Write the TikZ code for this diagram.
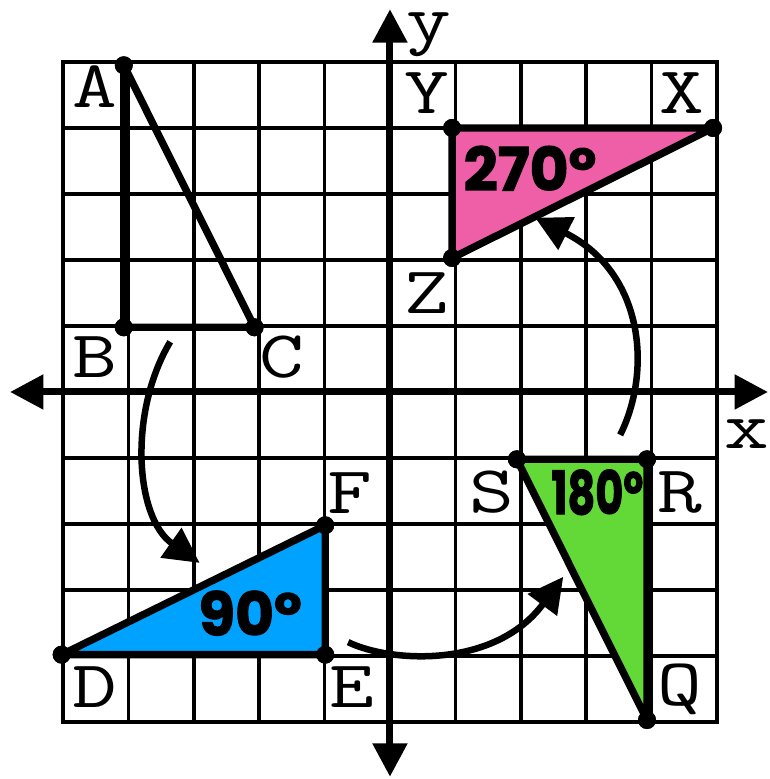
\documentclass[tikz,border=0pt]{standalone}
\usepackage{fontspec}
\newfontfamily\degfont[BoldFeatures={FakeBold=2}]{Poppins}
\usetikzlibrary{arrows.meta}
\definecolor{pinkfill}{RGB}{238,95,167}
\definecolor{bluefill}{RGB}{0,162,255}
\definecolor{greenfill}{RGB}{98,217,54}
\begin{document}
\begin{tikzpicture}[x=1.308cm,y=1.32cm,
  gridline/.style={line width=2pt},
  axisline/.style={line width=4pt,{Triangle[length=19pt,width=19pt]}-{Triangle[length=19pt,width=19pt]}},
  tri/.style={line width=4.2pt,line join=round},
  dot/.style={circle,fill=black,inner sep=0pt,minimum size=0.36cm},
  lbl/.style={font=\ttfamily\fontsize{38}{38}\selectfont,inner sep=0pt,text height=23pt,text depth=0pt,xscale=1.3},
  deg/.style={font=\degfont\bfseries\fontsize{34}{34}\selectfont,inner sep=0pt},
  turn/.style={line width=3.7pt,-{Triangle[length=20pt,width=20pt]}}]
\useasboundingbox (-5.963,-5.864) rectangle (5.810,5.939);
\fill[white] (-5.963,-5.864) rectangle (5.810,5.939);
% grid
\foreach \i in {-4,...,4} {
  \draw[gridline] (\i,-5) -- (\i,5);
  \draw[gridline] (-5,\i) -- (5,\i);
}
\draw[gridline] (-5,-5) rectangle (5,5);
% axes
\coordinate (xl) at (-5.81,0);
\coordinate (xr) at (5.78,0);
\coordinate (yt) at (0,5.80);
\coordinate (yb) at (0,-5.83);
\draw[axisline] (xl) -- (xr);
\draw[axisline] (yb) -- (yt);
\node[lbl,text height=16pt] (xlab) at (5.46,-0.65) {x};
\node[lbl,text height=16pt,text depth=8pt] (ylab) at (0.60,5.41) {y};
% vertices
\node[dot] (A) at (-4.07,4.95) {};
\node[dot] (B) at (-4.07,0.98) {};
\node[dot] (C) at (-2.07,0.98) {};
\node[dot] (D) at (-5.02,-3.98) {};
\node[dot] (E) at (-0.99,-3.98) {};
\node[dot] (F) at (-0.99,-2.02) {};
\node[dot] (S) at (1.94,-1.02) {};
\node[dot] (R) at (3.93,-1.02) {};
\node[dot] (Q) at (3.93,-4.97) {};
\node[dot] (Y) at (0.95,4.0) {};
\node[dot] (X) at (4.94,4.0) {};
\node[dot] (Z) at (0.95,2.03) {};
% triangles
\draw[tri] (A.center) -- (B.center) -- (C.center) -- cycle;
\draw[tri,fill=bluefill] (D.center) -- (E.center) -- (F.center) -- cycle;
\draw[tri,fill=greenfill] (S.center) -- (R.center) -- (Q.center) -- cycle;
\draw[tri,fill=pinkfill] (Y.center) -- (X.center) -- (Z.center) -- cycle;
\foreach \v in {A,B,C,D,E,F,S,R,Q,Y,X,Z} \fill (\v) circle[radius=0.18cm];
% vertex labels
\node[lbl] (lA) at (-4.51,4.61) {A};
\node[lbl] (lB) at (-4.51,0.53) {B};
\node[lbl] (lC) at (-1.65,0.53) {C};
\node[lbl] (lD) at (-4.51,-4.48) {D};
\node[lbl] (lE) at (-0.58,-4.48) {E};
\node[lbl] (lF) at (-0.61,-1.53) {F};
\node[lbl] (lS) at (1.56,-1.52) {S};
\node[lbl] (lR) at (4.43,-1.52) {R};
\node[lbl] (lQ) at (4.43,-4.45) {Q};
\node[lbl] (lY) at (0.57,4.53) {Y};
\node[lbl] (lX) at (4.46,4.53) {X};
\node[lbl] (lZ) at (0.57,1.50) {Z};
% angle labels
\node[deg] (d270) at (2.14,3.39) {270°};
\node[deg] (d90) at (-2.14,-3.35) {90°};
\node[deg,xscale=0.72] (d180) at (3.17,-1.52) {180°};
% rotation arrows
\coordinate (a1s) at (-3.36,0.76);
\coordinate (a1e) at (-2.91,-2.59);
\coordinate (a2s) at (-0.64,-3.79);
\coordinate (a2e) at (2.65,-2.80);
\coordinate (a3s) at (3.52,-0.65);
\coordinate (a3e) at (2.22,2.64);
\draw[turn] (a1s) .. controls (-4.0,-0.3) and (-3.9,-1.9) .. (a1e);
\draw[turn] (a2s) .. controls (0.0,-4.1) and (1.6,-4.2) .. (a2e);
\draw[turn] (a3s) .. controls (4.0,0.3) and (3.9,1.8) .. (a3e);
\end{tikzpicture}
\end{document}
